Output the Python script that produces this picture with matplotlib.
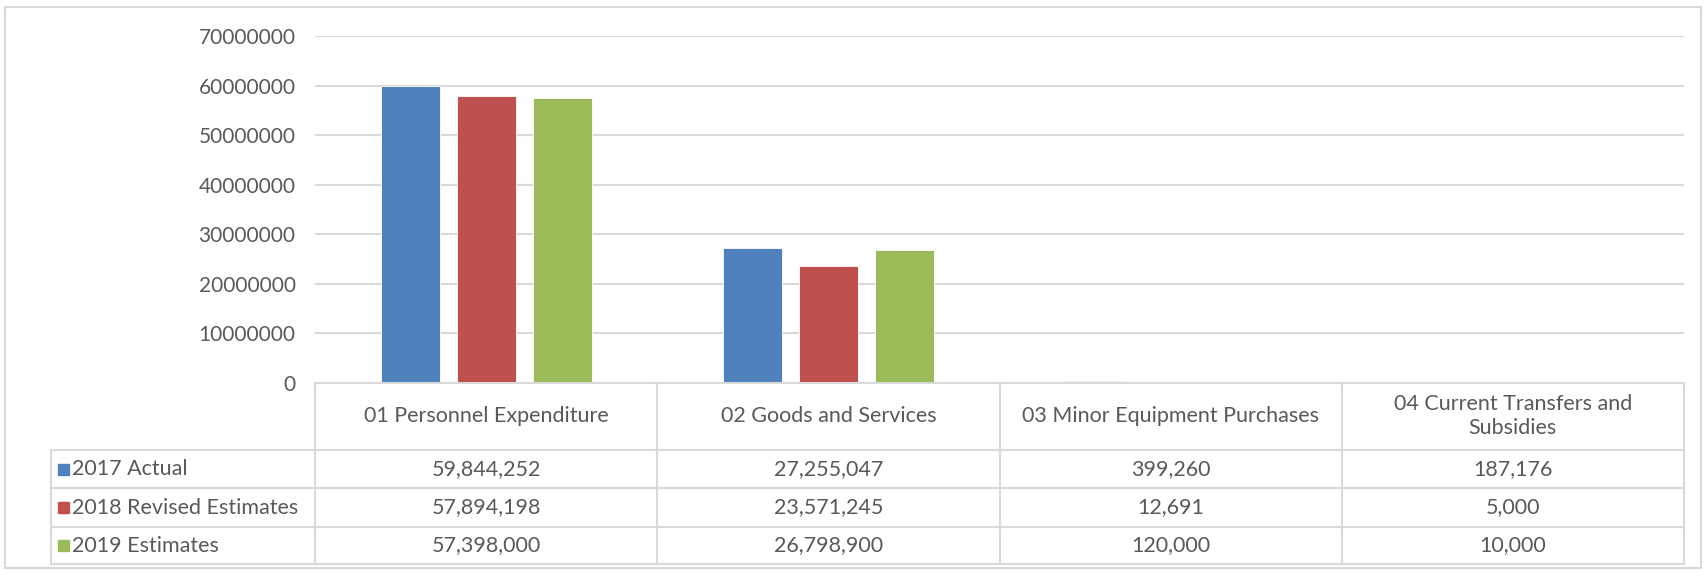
import numpy as np
import matplotlib.pyplot as plt
from matplotlib.lines import Line2D
from matplotlib.patches import Rectangle

# chart data
categories = ['01 Personnel Expenditure', '02 Goods and Services',
              '03 Minor Equipment Purchases', '04 Current Transfers and\nSubsidies']
series_names = ['2017 Actual', '2018 Revised Estimates', '2019 Estimates']
actual_2017 = [59844252, 27255047, 399260, 187176]
revised_2018 = [57894198, 23571245, 12691, 5000]
estimates_2019 = [57398000, 26798900, 120000, 10000]
yticks = [0, 10000000, 20000000, 30000000, 40000000, 50000000, 60000000, 70000000]

colors = ['#4F81BD', '#C0504D', '#9BBB59']
grid_c = '#D9D9D9'
text_c = '#595959'
plt.rcParams['font.family'] = ['Lato', 'DejaVu Sans']
fs = 15.5

W, H = 1704, 571
fig = plt.figure(figsize=(W / 100, H / 100), dpi=100)

def fx(px):
    return px / W

def fy(py):
    return 1 - py / H

# plot area in pixel coords (from top-left)
left, right, top, bottom = 315, 1684, 36, 383
ax = fig.add_axes([fx(left), fy(bottom), fx(right - left), (bottom - top) / H])

series = [actual_2017, revised_2018, estimates_2019]
x = np.arange(len(categories))
width = 0.172
step = 0.222
for i, vals in enumerate(series):
    ax.bar(x + (i - 1) * step, vals, width, color=colors[i], zorder=3,
           edgecolor='white', linewidth=0.6)

ax.set_xlim(-0.5, len(categories) - 0.5)
ax.set_ylim(0, 70000000)
ax.set_yticks(yticks)
ax.set_yticklabels([str(v) for v in yticks], color=text_c, fontsize=15)
ax.tick_params(axis='y', length=0, pad=14)
ax.set_xticks([])
ax.grid(axis='y', color=grid_c, linewidth=1.5, zorder=0)
for s in ax.spines.values():
    s.set_visible(False)

# data table below the axis
def hline(y, x0, x1):
    fig.add_artist(Line2D([fx(x0), fx(x1)], [fy(y), fy(y)], color=grid_c, lw=1.5))

def vline(x0, y0, y1):
    fig.add_artist(Line2D([fx(x0), fx(x0)], [fy(y0), fy(y1)], color=grid_c, lw=1.5))

col_edges = np.linspace(left, right, len(categories) + 1)
row_edges = [383, 450, 488, 527, 564]
leg_left = 51

hline(row_edges[0], left, right)
for y in row_edges[1:]:
    hline(y, leg_left, right)
for xe in col_edges:
    vline(xe, row_edges[0], row_edges[-1])
vline(leg_left, row_edges[1], row_edges[-1])

for j, cat in enumerate(categories):
    cx = (col_edges[j] + col_edges[j + 1]) / 2
    fig.text(fx(cx), fy((row_edges[0] + row_edges[1]) / 2), cat, ha='center', va='center',
             color=text_c, fontsize=fs, linespacing=1.25)

for i, name in enumerate(series_names):
    cy = (row_edges[i + 1] + row_edges[i + 2]) / 2
    fig.add_artist(Rectangle((fx(58), fy(cy + 5.5)), fx(11), 11 / H, color=colors[i]))
    fig.text(fx(72), fy(cy), name, ha='left', va='center', color=text_c, fontsize=fs)
    for j, v in enumerate(series[i]):
        cx = (col_edges[j] + col_edges[j + 1]) / 2
        fig.text(fx(cx), fy(cy), f'{v:,}', ha='center', va='center', color=text_c, fontsize=fs)

# outer chart border
fig.add_artist(Rectangle((fx(5), fy(568)), fx(1696), (568 - 7) / H, fill=False,
                         edgecolor=grid_c, lw=1.5))

fig.savefig('out.png', dpi=100)
